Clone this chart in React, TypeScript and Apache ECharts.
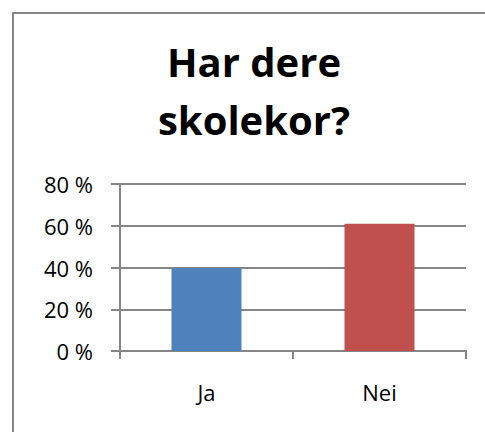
import React, { useEffect, useRef } from "react";
import * as echarts from "echarts";

const categories = ["Ja", "Nei"];
const values = [39.8, 60.9];
const barColors = ["#4F81BD", "#C0504D"];
const titleText = "Har dere\nskolekor?";
const yMin = 0;
const yMax = 80;
const yStep = 20;

export default function App() {
  const ref = useRef<HTMLDivElement>(null);
  useEffect(() => {
    if (!ref.current) return;
    const chart = echarts.init(ref.current, null, { renderer: "svg" });
    const font = "'Open Sans', sans-serif";
    chart.setOption({
      animation: false,
      backgroundColor: "#ffffff",
      grid: { left: 120, right: 19, top: 184, bottom: 81, containLabel: false },
      graphic: [
        {
          type: "line",
          shape: { x1: 13, y1: 13, x2: 13, y2: 440 },
          style: { stroke: "#868686", lineWidth: 2 },
          silent: true,
        },
        {
          type: "line",
          shape: { x1: 12, y1: 13, x2: 490, y2: 13 },
          style: { stroke: "#868686", lineWidth: 2 },
          silent: true,
        },
        {
          type: "text",
          x: 254,
          y: 32,
          style: {
            text: titleText,
            textAlign: "center",
            textVerticalAlign: "top",
            fontFamily: font,
            fontSize: 40,
            fontWeight: "bold",
            lineHeight: 58,
            fill: "#000000",
          },
        },
      ],
      xAxis: {
        type: "category",
        data: categories,
        axisLine: { show: true, lineStyle: { color: "#868686", width: 2 } },
        axisTick: { show: true, length: 8, lineStyle: { color: "#868686", width: 2 } },
        axisLabel: { color: "#000000", fontSize: 22, fontFamily: font, margin: 30 },
      },
      yAxis: {
        type: "value",
        min: yMin,
        max: yMax,
        interval: yStep,
        axisLine: { show: true, lineStyle: { color: "#868686", width: 2 } },
        axisTick: { show: true, length: 9, lineStyle: { color: "#868686", width: 2 } },
        splitLine: { show: true, lineStyle: { color: "#868686", width: 2 } },
        axisLabel: {
          color: "#000000",
          fontSize: 22,
          fontFamily: font,
          margin: 27,
          formatter: (v: number) => `${v} %`,
        },
      },
      series: [
        {
          type: "bar",
          data: values.map((v, i) => ({ value: v, itemStyle: { color: barColors[i] } })),
          barWidth: 70,
        },
      ],
    });
    return () => chart.dispose();
  }, []);
  return (
    <div
      ref={ref}
      style={{ position: "fixed", left: 0, top: 0, width: 485, height: 432 }}
    />
  );
}
